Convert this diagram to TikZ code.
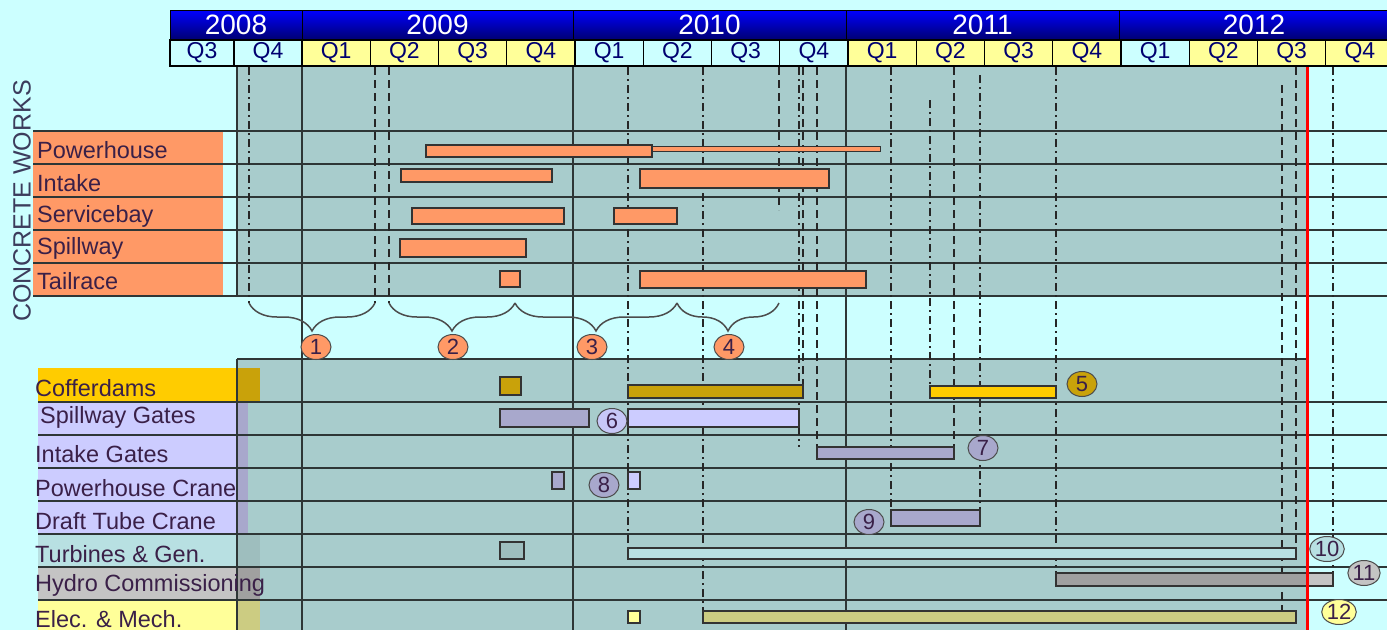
\documentclass[tikz,border=0pt]{standalone}
\usepackage{fontspec}
\setmainfont{Liberation Sans}
\usepackage{tikz}
\usetikzlibrary{shapes.geometric, decorations.pathreplacing}
\definecolor{sky}      {HTML}{CCFFFF}
\definecolor{grid}     {HTML}{A8CCCC}
\definecolor{ink}      {HTML}{3A2048}
\definecolor{slate}    {HTML}{3C3C5C}
\definecolor{rule}     {HTML}{2E3636}
\definecolor{navy}     {HTML}{000070}
\definecolor{qyellow}  {HTML}{FFFF99}
\definecolor{concrete} {HTML}{FF9966}
\definecolor{coffer}   {HTML}{FFCC00}
\definecolor{cofferdk} {HTML}{C9A20A}
\definecolor{gate}     {HTML}{CCCCFF}
\definecolor{gatedk}   {HTML}{A8A8CC}
\definecolor{turbine}  {HTML}{B8E0E2}
\definecolor{turbinedk}{HTML}{9EBEBE}
\definecolor{hydro}    {HTML}{C4C4C4}
\definecolor{hydrodk}  {HTML}{A0A0A0}
\definecolor{elec}     {HTML}{FFFF99}
\definecolor{elecdk}   {HTML}{CCCC82}

\begin{document}
\begin{tikzpicture}[x=1pt, y=-1pt,
  % One unit is one pixel of the chart, y runs downwards.
  yearcell/.style={draw=black, line width=1pt, top color=blue, bottom color=navy,
                   minimum height=30pt, inner sep=0pt, text=white,
                   font=\fontsize{28}{30}\selectfont},
  qcell/.style={draw=black, line width=1.2pt, minimum height=26pt, minimum width=68.25pt,
                inner sep=0pt, text=navy, font=\fontsize{23}{26}\selectfont},
  rowlabel/.style={anchor=west, inner sep=0pt, text=ink, font=\fontsize{23.5}{26}\selectfont},
  gridline/.style={rule, line width=1.5pt},
  guide/.style={black!85, line width=1.3pt, dash pattern=on 8pt off 4pt on 2pt off 4pt},
  guidedash/.style={black!85, line width=1.3pt, dash pattern=on 8pt off 5pt},
  task/.style={draw=black!80, line width=1.4pt},
  milestone/.style={ellipse, draw=black!70, line width=1pt, minimum width=30pt,
                    minimum height=25pt, inner sep=0pt, text=ink,
                    font=\fontsize{22}{24}\selectfont},
  phase/.style={decorate, decoration={brace, mirror, amplitude=28pt},
                draw=black!70, line width=1.5pt}
]
\useasboundingbox (0,0) rectangle (1387,630);
\fill[sky] (0,0) rectangle (1387,630);

% --- Row label fills ---
\fill[concrete] (33,131) rectangle (223,296);
\fill[coffer]   (38,368) rectangle (260,402);
\fill[gate]     (38,402) rectangle (248,534);
\fill[turbine]  (38,534) rectangle (260,567);
\fill[hydro]    (38,567) rectangle (260,600);
\fill[elec]     (38,600) rectangle (260,630);

% --- Chart areas ---
\fill[grid] (237,67) rectangle (1307,297);
\fill[grid] (237,359) rectangle (1307,630);
% label fills seen through the chart area
\fill[cofferdk]  (237,368) rectangle (260,402);
\fill[gatedk]    (237,402) rectangle (248,534);
\fill[turbinedk] (237,534) rectangle (260,567);
\fill[hydrodk]   (237,567) rectangle (260,600);
\fill[elecdk]    (237,600) rectangle (260,630);

% --- Row rules ---
\draw[gridline] (33,131) -- (1387,131);
\draw[gridline] (33,164) -- (1387,164);
\draw[gridline] (33,197) -- (1387,197);
\draw[gridline] (33,230) -- (1387,230);
\draw[gridline] (33,263) -- (1387,263);
\draw[gridline] (33,296) -- (1387,296);
\draw[gridline] (237,359) -- (1307,359);
\draw[gridline] (38,402) -- (1387,402);
\draw[gridline] (38,435) -- (1387,435);
\draw[gridline] (38,468) -- (1387,468);
\draw[gridline] (38,501) -- (1387,501);
\draw[gridline] (38,534) -- (1387,534);
\draw[gridline] (38,567) -- (1387,567);
\draw[gridline] (38,600) -- (1387,600);

% --- Year boundaries and chart edges ---
\draw[gridline] (237,67) -- (237,297);
\draw[gridline] (237,359) -- (237,630);
\draw[gridline] (302,67) -- (302,630);
\draw[gridline] (573,67) -- (573,630);
\draw[gridline] (846,67) -- (846,630);

% --- Guide lines ---
\draw[guide]     (249,67) -- (249,303);
\draw[guidedash] (375,67) -- (375,303);
\draw[guidedash] (389,67) -- (389,303);
\draw[guide]     (628,67) -- (628,548);
\draw[guide]     (703,67) -- (703,611);
\draw[guidedash] (779,67) -- (779,210);
\draw[guide]     (799,67) -- (799,447);
\draw[guidedash] (803,67) -- (803,385);
\draw[guidedash] (817,67) -- (817,447);
\draw[guide]     (891,67) -- (891,510);
\draw[guide]     (930,100) -- (930,386);
\draw[guidedash] (954,67) -- (954,447);
\draw[guide]     (980,75) -- (980,510);
\draw[guide]     (1056,67) -- (1056,573);
\draw[guidedash] (1282,85) -- (1282,611);
\draw[guidedash] (1296,67) -- (1296,548);
\draw[guide]     (1333,67) -- (1333,573);

% --- Concrete phases ---
\draw[phase] (249,303) -- (375,303);
\draw[phase] (389,303) -- (515,303);
\draw[phase] (515,303) -- (677,303);
\draw[phase] (677,303) -- (779,303);

% --- Concrete works bars ---
\draw[task, fill=concrete] (426,145) rectangle (652,157);
\draw[task, fill=concrete, line width=1pt] (652,146) rectangle (880,151);
\draw[task, fill=concrete] (401,169) rectangle (552,182);
\draw[task, fill=concrete] (640,169) rectangle (829,188);
\draw[task, fill=concrete] (412,208) rectangle (564,224);
\draw[task, fill=concrete] (614,208) rectangle (677,224);
\draw[task, fill=concrete] (400,239) rectangle (526,257);
\draw[task, fill=concrete] (500,271) rectangle (520,287);
\draw[task, fill=concrete] (640,271) rectangle (866,288);

% --- Equipment bars ---
\draw[task, fill=cofferdk]  (500,377) rectangle (521,395);
\draw[task, fill=cofferdk]  (628,385) rectangle (803,398);
\draw[task, fill=coffer]    (930,386) rectangle (1056,398);
\draw[task, fill=gatedk]    (500,409) rectangle (589,427);
\draw[task, fill=gate]      (628,409) rectangle (799,427);
\draw[task, fill=gatedk]    (817,447) rectangle (954,459);
\draw[task, fill=gatedk]    (552,472) rectangle (564,489);
\draw[task, fill=gate]      (628,472) rectangle (640,489);
\draw[task, fill=gatedk]    (891,510) rectangle (980,526);
\draw[task, fill=turbinedk] (500,542) rectangle (524,559);
\draw[task, fill=turbine]   (628,548) rectangle (1296,559);
\fill[hydrodk] (1056,573) rectangle (1307,586);
\fill[hydro]   (1307,573) rectangle (1333,586);
\draw[task]    (1056,573) rectangle (1333,586);
\draw[task, fill=elec]      (628,611) rectangle (640,623);
\draw[task, fill=elecdk]    (703,611) rectangle (1296,623);

% --- Cut-off date ---
\draw[red, line width=3pt] (1307,66) -- (1307,630);

% --- Milestones ---
\node[milestone, fill=concrete] (m1)  at (316,347)  {1};
\node[milestone, fill=concrete] (m2)  at (453,347)  {2};
\node[milestone, fill=concrete] (m3)  at (592,347)  {3};
\node[milestone, fill=concrete] (m4)  at (729,347)  {4};
\node[milestone, fill=cofferdk] (m5)  at (1082,384) {5};
\node[milestone, fill=gate!85!gatedk] (m6) at (612,421) {6};
\node[milestone, fill=gatedk]   (m7)  at (983,448)  {7};
\node[milestone, fill=gatedk]   (m8)  at (604,485)  {8};
\node[milestone, fill=gatedk]   (m9)  at (869,522)  {9};
\node[milestone, fill=turbine]  (m10) at (1327,549) {10};
\node[milestone, fill=hydro]    (m11) at (1364,573) {11};
\node[milestone, fill=elec]     (m12) at (1339,612) {12};

% --- Years ---
\node[yearcell, minimum width=132pt] (y2008) at (236,25)    {2008};
\node[yearcell, minimum width=271pt] (y2009) at (437.5,25)  {2009};
\node[yearcell, minimum width=273pt] (y2010) at (709.5,25)  {2010};
\node[yearcell, minimum width=273pt] (y2011) at (982.5,25)  {2011};
\node[yearcell, minimum width=270pt] (y2012) at (1254,25)   {2012};

% --- Quarters ---
\node[qcell, fill=sky, minimum width=64pt] (q08c) at (202,53) {Q3};
\node[qcell, fill=sky, minimum width=68pt] (q08d) at (268,53) {Q4};
\node[qcell, fill=qyellow] (q09a) at (336.1,53)  {Q1};
\node[qcell, fill=qyellow] (q09b) at (404.4,53)  {Q2};
\node[qcell, fill=qyellow] (q09c) at (472.6,53)  {Q3};
\node[qcell, fill=qyellow] (q09d) at (540.9,53)  {Q4};
\node[qcell, fill=sky]     (q10a) at (609.1,53)  {Q1};
\node[qcell, fill=sky]     (q10b) at (677.4,53)  {Q2};
\node[qcell, fill=sky]     (q10c) at (745.6,53)  {Q3};
\node[qcell, fill=sky]     (q10d) at (813.9,53)  {Q4};
\node[qcell, fill=qyellow] (q11a) at (882.1,53)  {Q1};
\node[qcell, fill=qyellow] (q11b) at (950.4,53)  {Q2};
\node[qcell, fill=qyellow] (q11c) at (1018.6,53) {Q3};
\node[qcell, fill=qyellow] (q11d) at (1086.9,53) {Q4};
\node[qcell, fill=sky]     (q12a) at (1155.1,53) {Q1};
\node[qcell, fill=qyellow] (q12b) at (1223.4,53) {Q2};
\node[qcell, fill=qyellow] (q12c) at (1291.6,53) {Q3};
\node[qcell, fill=qyellow] (q12d) at (1359.9,53) {Q4};

% --- Row labels ---
\node[rotate=90, inner sep=0pt, text=slate,
      font=\fontsize{25}{28}\selectfont] (concrete) at (22,201) {CONCRETE WORKS};
\node[rowlabel] (powerhouse) at (37,150) {Powerhouse};
\node[rowlabel] (intake)     at (37,183) {Intake};
\node[rowlabel] (servicebay) at (37,216) {Servicebay};
\node[rowlabel] (spillway)   at (37,248) {Spillway};
\node[rowlabel] (tailrace)   at (37,281) {Tailrace};
\node[rowlabel] (cofferdams) at (35,388) {Cofferdams};
\node[rowlabel] (spgates)    at (40,417) {Spillway Gates};
\node[rowlabel] (ingates)    at (35,454) {Intake Gates};
\node[rowlabel] (phcrane)    at (35,488) {Powerhouse Crane};
\node[rowlabel] (dtcrane)    at (35,521) {Draft Tube Crane};
\node[rowlabel] (turbines)   at (35,554) {Turbines \& Gen.};
\node[rowlabel] (hydrocom)   at (35,585) {Hydro Commissioning};
\node[rowlabel] (elecmech)   at (35,619) {Elec. \& Mech.};

\end{tikzpicture}
\end{document}
